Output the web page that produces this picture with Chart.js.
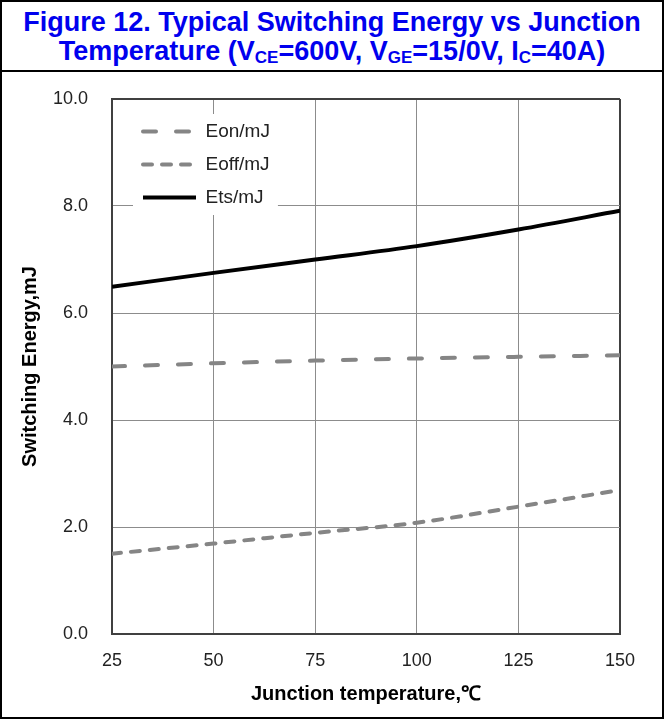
<!DOCTYPE html>
<html>
<head>
<meta charset="utf-8">
<script src="https://cdn.jsdelivr.net/npm/chart.js@4.4.1/dist/chart.umd.min.js"></script>
<style>
  html, body { margin: 0; padding: 0; background: #fff; }
  #wrap { position: relative; width: 664px; height: 719px; overflow: hidden; }
  #c { position: absolute; left: 0; top: 0; }
  #frame { position: absolute; left: 0; top: 0; width: 664px; height: 719px; box-sizing: border-box; border: 2px solid #000; pointer-events: none; }
  #title { position: absolute; left: 0; top: 0; width: 664px; height: 72px; box-sizing: border-box; border: 2px solid #000; background: #fff;
    font-family: "Liberation Sans", Arial, sans-serif; font-weight: bold; font-size: 27px; color: #0000ee; text-align: center; line-height: 29px; padding-top: 6px; }
  #title sub { font-size: 17px; line-height: 0; vertical-align: -3px; }
</style>
</head>
<body>
<div id="wrap">
  <canvas id="c" width="664" height="719"></canvas>
  <div id="frame"></div>
  <div id="title">Figure 12. Typical Switching Energy vs Junction<br>Temperature (V<sub>CE</sub>=600V, V<sub>GE</sub>=15/0V, I<sub>C</sub>=40A)</div>
</div>
<script>
const temperatures = [25, 50, 75, 100, 125, 150];
const eonValues  = [5.00, 5.06, 5.11, 5.15, 5.18, 5.21];
const eoffValues = [1.50, 1.69, 1.89, 2.08, 2.38, 2.69];
const etsValues  = [6.49, 6.75, 7.00, 7.25, 7.56, 7.91];
const seriesNames = ['Eon/mJ', 'Eoff/mJ', 'Ets/mJ'];
const xTicks = [25, 50, 75, 100, 125, 150];
const yTicks = [0, 2, 4, 6, 8, 10];
const xTitle = 'Junction temperature,℃';
const yTitle = 'Switching Energy,mJ';

const toPts = (vals) => temperatures.map((t, i) => ({x: t, y: vals[i]}));

const legendPlugin = {
  id: 'legendBg',
  afterLayout(chart) {
    const lg = chart.legend;
    if (!lg) return;
    const area = chart.chartArea;
    lg.left = area.left + 17;
    lg.top = area.top + 9;
    lg.bottom = area.bottom;
    lg.right = area.right;
    if (!lg._wrappedDraw) {
      const orig = lg.draw.bind(lg);
      lg.draw = function () {
        const ctx = chart.ctx;
        const pad = lg.options.labels.padding;
        const fs = lg.options.labels.font.size;
        const n = lg.legendItems.length;
        let maxW = 0;
        lg.legendHitBoxes.forEach(h => { maxW = Math.max(maxW, h.width); });
        const x0 = lg.left + pad - 10;
        const y0 = lg.top + pad - 8;
        const h = n * fs + (n - 1) * pad + 16;
        ctx.save();
        ctx.fillStyle = '#fff';
        ctx.fillRect(x0, y0, maxW + 18, h);
        ctx.restore();
        orig();
      };
      lg._wrappedDraw = true;
    }
  }
};

const gridColor = '#8c8c8c';
const edgeColor = '#404040';
const fontFamily = '"Liberation Sans", Arial, sans-serif';

new Chart(document.getElementById('c'), {
  type: 'line',
  data: {
    datasets: [
      { label: seriesNames[0], data: toPts(eonValues), borderColor: '#858585', backgroundColor: '#858585',
        borderWidth: 4, borderDash: [13, 20], borderCapStyle: 'round', pointRadius: 0, cubicInterpolationMode: 'monotone', fill: false },
      { label: seriesNames[1], data: toPts(eoffValues), borderColor: '#858585', backgroundColor: '#858585',
        borderWidth: 4, borderDash: [9, 10], borderCapStyle: 'round', pointRadius: 0, cubicInterpolationMode: 'monotone', fill: false },
      { label: seriesNames[2], data: toPts(etsValues), borderColor: '#000', backgroundColor: '#000',
        borderWidth: 4, borderCapStyle: 'butt', pointRadius: 0, cubicInterpolationMode: 'monotone', fill: false }
    ]
  },
  options: {
    responsive: false,
    animation: false,
    devicePixelRatio: 1,
    layout: { padding: { top: 99, right: 44, left: 0, bottom: 0 } },
    plugins: {
      tooltip: { enabled: false },
      legend: {
        position: 'chartArea',
        align: 'start',
        labels: {
          usePointStyle: true,
          pointStyle: 'line',
          pointStyleWidth: 53,
          padding: 14,
          color: '#222',
          font: { family: fontFamily, size: 19 },
          generateLabels(chart) {
            const items = Chart.defaults.plugins.legend.labels.generateLabels(chart);
            items.forEach(it => {
              const ds = chart.data.datasets[it.datasetIndex];
              it.lineDash = ds.borderDash || [];
              it.lineCap = ds.borderCapStyle || 'butt';
              it.strokeStyle = ds.borderColor;
              it.lineWidth = ds.borderWidth;
              it.pointStyle = 'line';
            });
            return items;
          }
        }
      }
    },
    scales: {
      x: {
        type: 'linear', min: 25, max: 150,
        afterBuildTicks(scale) { scale.ticks = xTicks.map(v => ({value: v})); },
        afterFit(scale) { scale.height = 85; },
        ticks: { padding: 16, color: '#222', font: { family: fontFamily, size: 18 } },
        grid: { drawTicks: false, color: (c) => (c.tick && c.tick.value === 150) ? edgeColor : gridColor,
                lineWidth: (c) => (c.tick && c.tick.value === 150) ? 2 : 1 },
        border: { color: edgeColor, width: 2 },
        title: { display: true, text: xTitle, color: '#000', padding: { top: 0, bottom: 13 },
                 font: { family: fontFamily, size: 20, weight: 'bold' } }
      },
      y: {
        type: 'linear', min: 0, max: 10,
        afterBuildTicks(scale) { scale.ticks = yTicks.map(v => ({value: v})); },
        afterFit(scale) { scale.width = 112; },
        ticks: { padding: 24, color: '#222', callback: (v) => Number(v).toFixed(1),
                 font: { family: fontFamily, size: 18 } },
        grid: { drawTicks: false, color: (c) => (c.tick && c.tick.value === 10) ? edgeColor : gridColor,
                lineWidth: (c) => (c.tick && c.tick.value === 10) ? 2 : 1 },
        border: { color: edgeColor, width: 2 },
        title: { display: true, text: yTitle, color: '#000', padding: { top: 18, bottom: 0 },
                 font: { family: fontFamily, size: 20, weight: 'bold' } }
      }
    }
  },
  plugins: [legendPlugin]
});
</script>
</body>
</html>
